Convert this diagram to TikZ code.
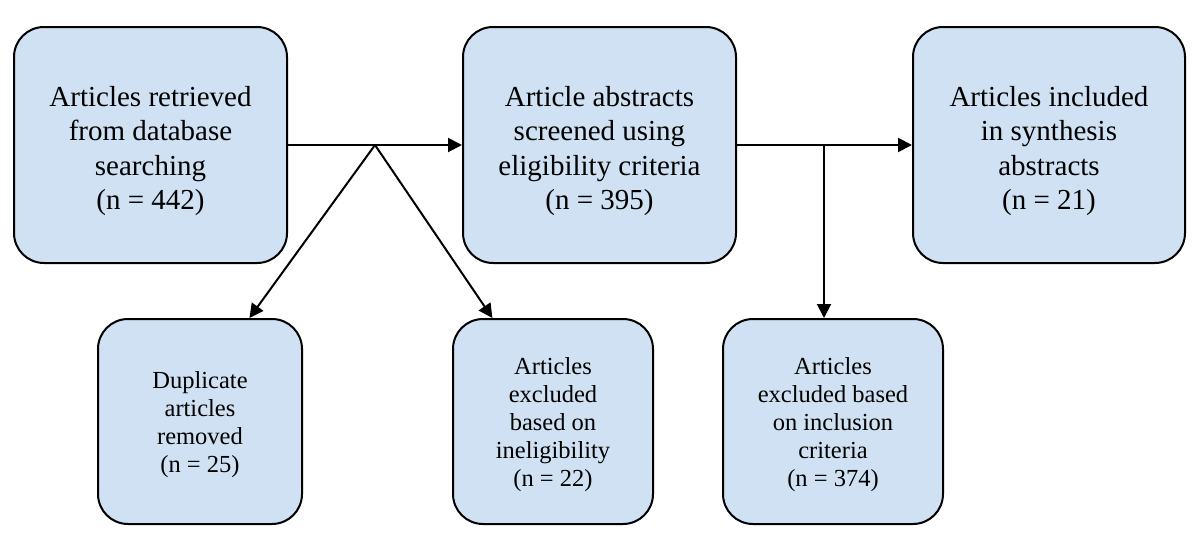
\documentclass[tikz,border=0pt]{standalone}
\usepackage{fontspec}
\setmainfont{Liberation Serif}
\usetikzlibrary{arrows.meta,calc}
\definecolor{boxblue}{RGB}{207,225,242}
\newcommand{\topstrut}{\rule{0pt}{32pt}}
\newcommand{\botstrut}{\rule{0pt}{23pt}}
\begin{document}
\begin{tikzpicture}[x=1pt,y=-1pt,
  bigbox/.style={draw=black, line width=2pt, fill=boxblue, rounded corners=30pt,
    minimum width=273pt, minimum height=236pt, align=center, inner sep=4pt,
    font=\fontsize{29}{34.3}\selectfont},
  smallbox/.style={draw=black, line width=2pt, fill=boxblue, rounded corners=30pt,
    minimum height=205pt, align=center, inner sep=4pt,
    font=\fontsize{24.5}{28}\selectfont},
  arr/.style={line width=2pt, -{Triangle[length=14pt,width=14pt]}}]
\useasboundingbox (0,0) rectangle (1200,554);
\node[bigbox] (A) at (150.5,145) {\topstrut Articles retrieved\\from database\\searching\\(n = 442)};
\node[bigbox] (B) at (599.5,145) {\topstrut Article abstracts\\screened using\\eligibility criteria\\(n = 395)};
\node[bigbox, minimum width=272pt] (C) at (1049,145) {\topstrut Articles included\\in synthesis\\abstracts\\(n = 21)};
\node[smallbox, minimum width=204pt] (D) at (200,421.5) {\botstrut Duplicate\\articles\\removed\\(n = 25)};
\node[smallbox, minimum width=200pt] (E) at (553,421.5) {\botstrut Articles\\excluded\\based on\\ineligibility\\(n = 22)};
\node[smallbox, minimum width=220pt] (F) at (833,421.5) {\botstrut Articles\\excluded based\\on inclusion\\criteria\\(n = 374)};
\coordinate (j1) at (375,145);
\coordinate (j2) at (824,145);
\draw[arr] (A.east) -- (B.west);
\draw[arr] (B.east) -- (C.west);
\draw[arr] (j1) -- ($(D.north west)!0.74!(D.north east)$);
\draw[arr] (j1) -- ($(E.north west)!0.2!(E.north east)$);
\draw[arr] (j2) -- (j2 |- F.north);
\end{tikzpicture}
\end{document}
